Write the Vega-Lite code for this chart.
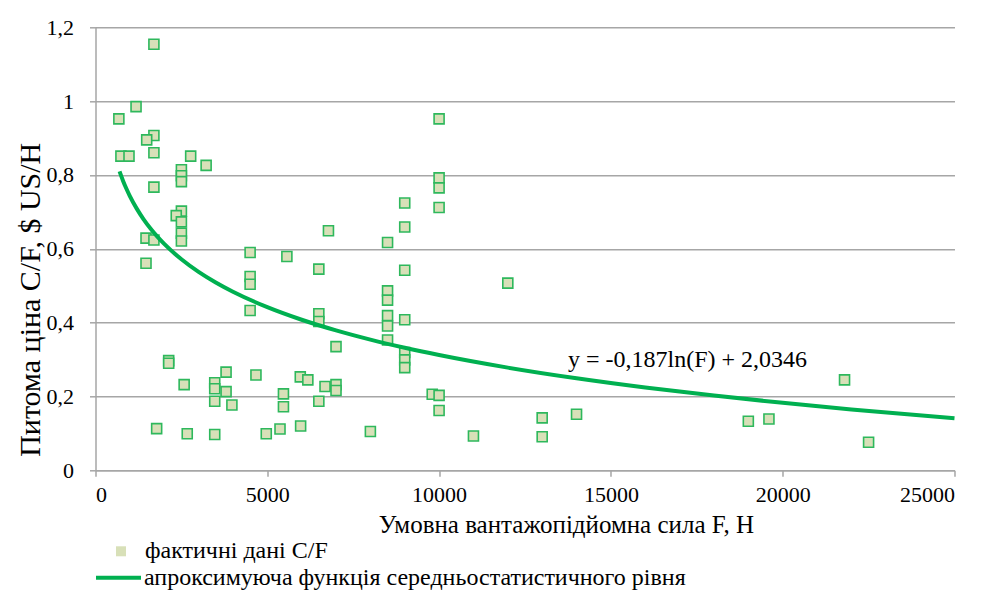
{
  "$schema": "https://vega.github.io/schema/vega-lite/v6.json",
  "autosize": {"type": "none"},
  "width": 859,
  "height": 443,
  "padding": {"left": 95.5, "top": 27.3, "right": 30.7, "bottom": 125.7},
  "background": "white",
  "config": {
    "font": "Liberation Serif",
    "view": {"stroke": null},
    "axis": {
      "labelFont": "Liberation Serif",
      "titleFont": "Liberation Serif",
      "labelFontSize": 22,
      "titleFontSize": 24,
      "titleFontWeight": "normal",
      "labelColor": "#000000",
      "titleColor": "#000000",
      "domainColor": "#a6a6a6",
      "domainWidth": 1.5,
      "tickColor": "#a6a6a6",
      "tickWidth": 1.5,
      "gridColor": "#a6a6a6",
      "gridWidth": 1.5
    },
    "legend": {
      "labelFont": "Liberation Serif",
      "labelFontSize": 24,
      "labelColor": "#000000",
      "labelLimit": 0,
      "padding": 0,
      "offset": 0
    }
  },
  "datasets": {
    "pts": [
      {"F": 1700, "y": 1.154}, {"F": 1180, "y": 0.985}, {"F": 680, "y": 0.952},
      {"F": 1700, "y": 0.907}, {"F": 1490, "y": 0.895}, {"F": 740, "y": 0.851},
      {"F": 975, "y": 0.851}, {"F": 1700, "y": 0.860}, {"F": 2770, "y": 0.851},
      {"F": 3220, "y": 0.826}, {"F": 2500, "y": 0.814}, {"F": 2500, "y": 0.798},
      {"F": 2500, "y": 0.782}, {"F": 1700, "y": 0.767}, {"F": 2500, "y": 0.702},
      {"F": 2350, "y": 0.690}, {"F": 2500, "y": 0.673}, {"F": 2500, "y": 0.642},
      {"F": 2500, "y": 0.621}, {"F": 1470, "y": 0.629}, {"F": 1700, "y": 0.624},
      {"F": 6780, "y": 0.649}, {"F": 4500, "y": 0.590}, {"F": 5570, "y": 0.579},
      {"F": 1470, "y": 0.561}, {"F": 6500, "y": 0.545}, {"F": 4500, "y": 0.525},
      {"F": 4500, "y": 0.504}, {"F": 4500, "y": 0.433}, {"F": 6500, "y": 0.424},
      {"F": 6500, "y": 0.403}, {"F": 7000, "y": 0.335}, {"F": 2130, "y": 0.297},
      {"F": 2130, "y": 0.290}, {"F": 3800, "y": 0.266}, {"F": 4670, "y": 0.258},
      {"F": 5960, "y": 0.253}, {"F": 6180, "y": 0.245}, {"F": 2580, "y": 0.232},
      {"F": 3470, "y": 0.237}, {"F": 3470, "y": 0.221}, {"F": 3800, "y": 0.213},
      {"F": 6680, "y": 0.227}, {"F": 7000, "y": 0.232}, {"F": 7000, "y": 0.216},
      {"F": 5470, "y": 0.207}, {"F": 3470, "y": 0.187}, {"F": 3970, "y": 0.177},
      {"F": 5470, "y": 0.172}, {"F": 6500, "y": 0.187}, {"F": 1780, "y": 0.113},
      {"F": 2670, "y": 0.099}, {"F": 3470, "y": 0.097}, {"F": 4970, "y": 0.099},
      {"F": 5370, "y": 0.112}, {"F": 5970, "y": 0.120}, {"F": 10000, "y": 0.952},
      {"F": 10000, "y": 0.792}, {"F": 10000, "y": 0.765}, {"F": 9000, "y": 0.724},
      {"F": 10000, "y": 0.712}, {"F": 9000, "y": 0.659}, {"F": 8500, "y": 0.617},
      {"F": 9000, "y": 0.542}, {"F": 12000, "y": 0.507}, {"F": 8500, "y": 0.486},
      {"F": 8500, "y": 0.461}, {"F": 8500, "y": 0.419}, {"F": 8500, "y": 0.391},
      {"F": 8500, "y": 0.353}, {"F": 9000, "y": 0.408}, {"F": 9000, "y": 0.319},
      {"F": 9000, "y": 0.299}, {"F": 9000, "y": 0.278}, {"F": 9800, "y": 0.206},
      {"F": 10000, "y": 0.203}, {"F": 10000, "y": 0.162}, {"F": 8000, "y": 0.105},
      {"F": 11000, "y": 0.093}, {"F": 13000, "y": 0.142}, {"F": 13000, "y": 0.091},
      {"F": 14000, "y": 0.152}, {"F": 19000, "y": 0.133}, {"F": 19600, "y": 0.139},
      {"F": 21800, "y": 0.245}, {"F": 22500, "y": 0.076}
    ],
    "fit": [
      {"F": 700, "y": 0.8096}, {"F": 800, "y": 0.7846}, {"F": 900, "y": 0.7626},
      {"F": 1000, "y": 0.7428}, {"F": 1200, "y": 0.7088}, {"F": 1400, "y": 0.6799},
      {"F": 1600, "y": 0.6550}, {"F": 1800, "y": 0.6329}, {"F": 2000, "y": 0.6132},
      {"F": 2500, "y": 0.5715}, {"F": 3000, "y": 0.5374}, {"F": 3500, "y": 0.5086},
      {"F": 4000, "y": 0.4836}, {"F": 5000, "y": 0.4419}, {"F": 6000, "y": 0.4078},
      {"F": 7000, "y": 0.3790}, {"F": 8000, "y": 0.3540}, {"F": 9000, "y": 0.3320},
      {"F": 10000, "y": 0.3123}, {"F": 12000, "y": 0.2782}, {"F": 14000, "y": 0.2494},
      {"F": 16000, "y": 0.2244}, {"F": 18000, "y": 0.2024}, {"F": 20000, "y": 0.1827},
      {"F": 22000, "y": 0.1648}, {"F": 25000, "y": 0.1409}
    ],
    "lbl": [
      {"F": 17230, "y": 0.299, "t": "y = -0,187ln(F) + 2,0346"}
    ]
  },
  "encoding": {
    "x": {
      "field": "F", "type": "quantitative",
      "scale": {"domain": [0, 25000], "nice": false, "zero": true},
      "axis": {
        "values": [0, 5000, 10000, 15000, 20000, 25000],
        "format": "d",
        "grid": false,
        "tickSize": 6,
        "labelPadding": 8,
        "labelFont": "Liberation Serif",
        "titleFont": "Liberation Serif",
        "title": "Умовна вантажопідйомна сила F, H",
        "titleFontSize": 25,
        "titleX": 470.5,
        "titleY": 54.5,
        "titleAlign": "center",
        "titleBaseline": "middle"
      }
    },
    "y": {
      "field": "y", "type": "quantitative",
      "scale": {"domain": [0, 1.2], "nice": false},
      "axis": {
        "values": [0, 0.2, 0.4, 0.6, 0.8, 1, 1.2],
        "labelExpr": "replace(format(datum.value, '.1~f'), '.', ',')",
        "grid": true,
        "tickSize": 6,
        "labelPadding": 16,
        "labelFont": "Liberation Serif",
        "titleFont": "Liberation Serif",
        "title": "Питома ціна  C/F, $ US/H",
        "titleFontSize": 30,
        "titleX": -65,
        "titleY": 272,
        "titleAngle": -90,
        "titleAlign": "center",
        "titleBaseline": "middle"
      }
    }
  },
  "layer": [
    {
      "data": {"name": "pts"},
      "mark": {"type": "point", "shape": "square", "filled": true, "fill": "#d8e0b8", "fillOpacity": 1, "stroke": "#2eb85c", "strokeWidth": 1.6, "opacity": 1, "size": 100},
      "encoding": {
        "shape": {
          "datum": "фактичні дані C/F",
          "type": "nominal",
          "scale": {"range": ["square"]},
          "legend": {
            "orient": "none",
            "legendX": 13.5,
            "legendY": 512,
            "title": null,
            "symbolSize": 100,
            "symbolFillColor": "#d8e0b8",
            "symbolStrokeColor": "#2eb85c",
            "symbolStrokeWidth": 1.6,
            "labelOffset": 12,
            "encode": {
              "symbols": {
                "update": {
                  "stroke": {"value": "#2eb85c"},
                  "strokeWidth": {"value": 1.6},
                  "fill": {"value": "#d8e0b8"},
                  "opacity": {"value": 1}
                }
              }
            }
          }
        }
      }
    },
    {
      "data": {"name": "fit"},
      "mark": {"type": "line", "strokeWidth": 4, "interpolate": "monotone"},
      "encoding": {
        "color": {
          "datum": "апроксимуюча функція середньостатистичного рівня",
          "type": "nominal",
          "scale": {"range": ["#00b050"]},
          "legend": {
            "orient": "none",
            "legendX": -1.5,
            "legendY": 526,
            "title": null,
            "symbolType": "stroke",
            "symbolSize": 2025,
            "symbolStrokeWidth": 4,
            "labelOffset": 1
          }
        }
      }
    },
    {
      "data": {"name": "lbl"},
      "mark": {"type": "text", "font": "Liberation Serif", "fontSize": 24, "color": "#000000", "align": "center", "baseline": "middle"},
      "encoding": {"text": {"field": "t", "type": "nominal"}}
    }
  ]
}
